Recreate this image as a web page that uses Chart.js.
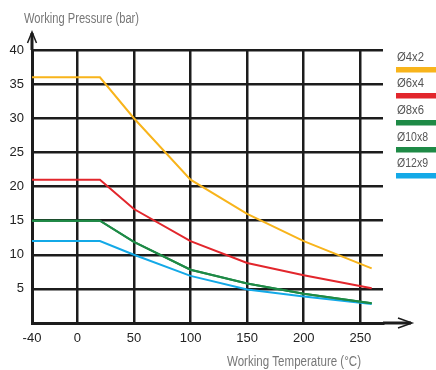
<!DOCTYPE html>
<html>
<head>
<meta charset="utf-8">
<script src="https://cdn.jsdelivr.net/npm/chart.js@4"></script>
<style>
  html, body { margin: 0; padding: 0; background: #fff; }
  #wrap { width: 436px; height: 370px; }
</style>
</head>
<body>
<div id="wrap"><canvas id="chart" width="436" height="370"></canvas></div>
<script>
const xTicks = [-40, 0, 50, 100, 150, 200, 250]
const yTicks = [0, 5, 10, 15, 20, 25, 30, 35, 40]
const temps = [-40, 20, 50, 100, 150, 200, 260]
const labels = ['Ø4x2', 'Ø6x4', 'Ø8x6', 'Ø10x8', 'Ø12x9']
const p4x2 = [36, 36, 30, 21, 16, 12, 8]
const p6x4 = [21, 21, 16.7, 12, 8.8, 7, 5.1]
const p8x6 = [15, 15, 11.9, 7.8, 5.8, 4.3, 2.9]
const p10x8 = [15, 15, 11.9, 7.8, 5.8, 4.3, 2.9]
const p12x9 = [12, 12, 10, 6.9, 4.9, 3.9, 2.8]
const colors = ['#f8b41b', '#e2262c', '#1e8a46', '#1e8a46', '#13a9e7']

const font = '"Liberation Sans", Arial, sans-serif'
const series = [p4x2, p6x4, p8x6, p10x8, p12x9]

// condensed look: squeeze text to a given width
function narrowText(c, txt, x, y, w) {
  const m = c.measureText(txt).width
  c.save()
  c.translate(x, y)
  c.scale(w / m, 1)
  c.fillText(txt, 0, 0)
  c.restore()
}

const extras = {
  id: 'extras',
  afterDraw(chart) {
    const c = chart.ctx
    const a = chart.chartArea
    c.save()
    // axis extensions with arrows
    c.strokeStyle = '#1c1c1c'
    c.lineWidth = 3
    c.beginPath()
    c.moveTo(a.left, a.top)
    c.lineTo(a.left, a.top - 17)
    c.moveTo(a.right, a.bottom)
    c.lineTo(a.right + 28, a.bottom)
    c.stroke()
    c.lineWidth = 1.5
    c.beginPath()
    c.moveTo(a.left - 4.5, a.top - 7)
    c.lineTo(a.left, a.top - 18)
    c.lineTo(a.left + 4.5, a.top - 7)
    c.moveTo(a.right + 15, a.bottom - 5)
    c.lineTo(a.right + 29, a.bottom)
    c.lineTo(a.right + 15, a.bottom + 5)
    c.stroke()
    // titles
    c.fillStyle = '#777'
    c.font = '14px ' + font
    c.textBaseline = 'middle'
    c.textAlign = 'left'
    narrowText(c, 'Working Pressure (bar)', 24, 19, 115)
    narrowText(c, 'Working Temperature (°C)', 227, 362, 134)
    // legend
    c.font = '13px ' + font
    const rows = [57, 83, 110, 137, 163]
    labels.forEach((l, i) => {
      c.fillStyle = '#555'
      narrowText(c, l, 397, rows[i], l.length > 4 ? 31 : 27)
      c.fillStyle = colors[i]
      c.fillRect(396, rows[i] + 10, 40, 5.5)
    })
    c.restore()
  }
}

new Chart(document.getElementById('chart'), {
  type: 'line',
  data: {
    datasets: series.map((s, i) => ({
      label: labels[i],
      data: s.map((v, j) => ({ x: temps[j], y: v })),
      borderColor: colors[i],
      borderWidth: 2,
      pointRadius: 0,
      tension: 0,
      fill: false
    }))
  },
  options: {
    responsive: false,
    animation: false,
    layout: { padding: { top: 50, right: 53, left: 0, bottom: 0 } },
    plugins: { legend: { display: false }, tooltip: { enabled: false } },
    scales: {
      x: {
        type: 'linear',
        min: -40,
        max: 270,
        afterBuildTicks: s => { s.ticks = xTicks.map(v => ({ value: v })) },
        afterFit: s => { s.height = 47 },
        grid: { color: '#1c1c1c', lineWidth: 2.5, drawTicks: false },
        border: { color: '#1c1c1c', width: 3 },
        ticks: { color: '#222', padding: 8, font: { family: font, size: 13 } }
      },
      y: {
        min: 0,
        max: 40,
        afterBuildTicks: s => { s.ticks = yTicks.map(v => ({ value: v })) },
        afterFit: s => { s.width = 32 },
        grid: { color: '#1c1c1c', lineWidth: 2.5, drawTicks: false },
        border: { color: '#1c1c1c', width: 3 },
        ticks: {
          color: '#222', padding: 8, font: { family: font, size: 13 },
          callback: v => v === 0 ? '' : v
        }
      }
    }
  },
  plugins: [extras]
})
</script>
</body>
</html>
